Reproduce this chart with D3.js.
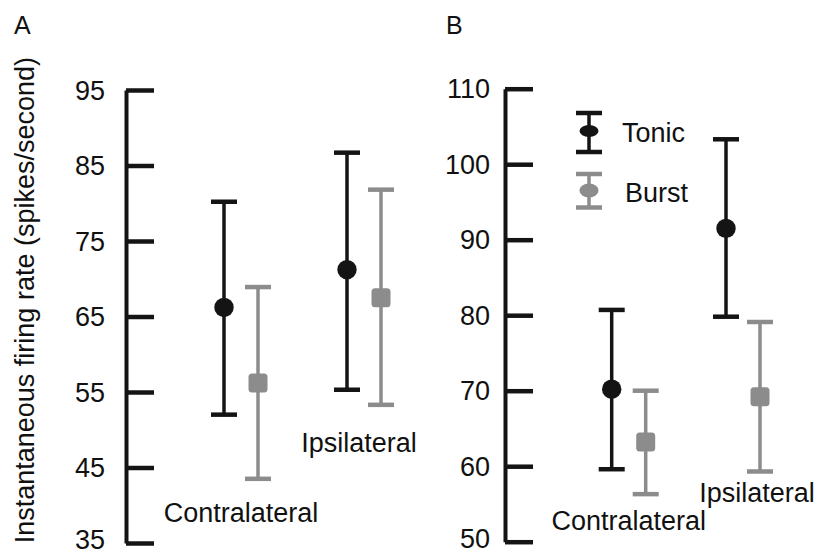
<!DOCTYPE html>
<html>
<head>
<meta charset="utf-8">
<script src="https://cdn.jsdelivr.net/npm/d3@7"></script>
<style>
  html, body { margin: 0; padding: 0; background: #fff; }
  svg text { font-family: "Liberation Sans", Arial, Helvetica, sans-serif; fill: #111; }
</style>
</head>
<body>
<svg id="chart" width="822" height="555"></svg>
<script>
// categories and series
var categories = ["Contralateral", "Ipsilateral"];
var series = ["Tonic", "Burst"];

// tick values
var ticksA = [35, 45, 55, 65, 75, 85, 95];
var ticksB = [50, 60, 70, 80, 90, 100, 110];

// panel A values (spikes/second)
var tonicMeanA = [66.2, 71.2];
var tonicLowA  = [52.0, 55.3];
var tonicHighA = [80.2, 86.7];
var burstMeanA = [56.2, 67.5];
var burstLowA  = [43.5, 53.3];
var burstHighA = [68.9, 81.8];

// panel B values (spikes/second)
var tonicMeanB = [70.2, 91.5];
var tonicLowB  = [59.6, 79.8];
var tonicHighB = [80.7, 103.3];
var burstMeanB = [63.2, 69.2];
var burstLowB  = [56.3, 59.3];
var burstHighB = [70.0, 79.1];

var BLACK = "#141414";
var GRAY = "#8c8c8c";
var FONT = 27;

var svg = d3.select("#chart");

function rows(tm, tl, th, bm, bl, bh) {
  var out = [];
  categories.forEach(function (c, i) {
    out.push({cat: c, s: "Tonic", mean: tm[i], low: tl[i], high: th[i]});
    out.push({cat: c, s: "Burst", mean: bm[i], low: bl[i], high: bh[i]});
  });
  return out;
}

function drawPanel(p) {
  var g = svg.append("g").attr("transform", "translate(" + p.axisX + ",0)");

  var y = d3.scaleLinear().domain(p.domain).range([p.bottom, p.top]);
  var x = d3.scalePoint().domain(categories).range(p.groups);
  var dx = d3.scalePoint().domain(series).range([-17, 17]);

  // axis: ticks to the right, labels to the left
  var axis = d3.axisLeft(y)
    .tickValues(p.ticks)
    .tickSizeInner(-28)
    .tickSizeOuter(0)
    .tickPadding(p.pad)
    .tickFormat(d3.format("d"));

  var ax = g.append("g").call(axis);
  ax.select(".domain").attr("stroke", BLACK).attr("stroke-width", 4);
  ax.selectAll(".tick line").attr("stroke", BLACK).attr("stroke-width", 4.5);
  ax.selectAll(".tick text")
    .attr("font-size", FONT)
    .attr("fill", BLACK)
    // bottom label kept a little higher so it stays inside the frame
    .attr("dy", function (d, i) { return i === 0 ? "0.2em" : "0.34em"; })
    .style("font-family", "'Liberation Sans', Arial, sans-serif");

  var data = rows.apply(null, p.values);

  var bars = g.selectAll(".bar")
    .data(data)
    .join("g")
    .attr("class", "bar")
    .attr("transform", function (d) {
      return "translate(" + (x(d.cat) + dx(d.s) - p.axisX) + ",0)";
    });

  bars.append("line")
    .attr("x1", 0).attr("x2", 0)
    .attr("y1", function (d) { return y(d.low); })
    .attr("y2", function (d) { return y(d.high); })
    .attr("stroke", function (d) { return d.s === "Tonic" ? BLACK : GRAY; })
    .attr("stroke-width", 3.5);

  bars.selectAll(".cap")
    .data(function (d) { return [d, d].map(function (e, i) { return {s: e.s, v: i ? e.high : e.low}; }); })
    .join("line")
    .attr("class", "cap")
    .attr("x1", -13).attr("x2", 13)
    .attr("y1", function (d) { return y(d.v); })
    .attr("y2", function (d) { return y(d.v); })
    .attr("stroke", function (d) { return d.s === "Tonic" ? BLACK : GRAY; })
    .attr("stroke-width", 4.5);

  bars.filter(function (d) { return d.s === "Tonic"; })
    .append("circle")
    .attr("cx", 0)
    .attr("cy", function (d) { return y(d.mean); })
    .attr("r", 9.7)
    .attr("fill", BLACK);

  bars.filter(function (d) { return d.s === "Burst"; })
    .append("rect")
    .attr("x", -9.5).attr("width", 19)
    .attr("y", function (d) { return y(d.mean) - 9.5; })
    .attr("height", 19)
    .attr("rx", 3.5)
    .attr("fill", GRAY);

  // category labels
  p.labels.forEach(function (l, i) {
    svg.append("text")
      .attr("x", x(categories[i]) + l[0])
      .attr("y", l[1])
      .attr("text-anchor", "middle")
      .attr("font-size", FONT)
      .text(categories[i]);
  });

  svg.append("text")
    .attr("x", p.letterX)
    .attr("y", 34)
    .attr("font-size", 25)
    .text(p.letter);
}

drawPanel({
  letter: "A", letterX: 14,
  axisX: 126, top: 90, bottom: 543, pad: 21,
  domain: [35, 95], ticks: ticksA,
  groups: [241, 364],
  labels: [[0, 522], [-5, 452]],
  values: [tonicMeanA, tonicLowA, tonicHighA, burstMeanA, burstLowA, burstHighA]
});

drawPanel({
  letter: "B", letterX: 446,
  axisX: 505, top: 88.7, bottom: 541.7, pad: 15,
  domain: [50, 110], ticks: ticksB,
  groups: [628.7, 743],
  labels: [[0, 530], [14, 502]],
  values: [tonicMeanB, tonicLowB, tonicHighB, burstMeanB, burstLowB, burstHighB]
});

// y axis title
svg.append("text")
  .attr("transform", "translate(34,57) rotate(-90)")
  .attr("text-anchor", "end")
  .attr("font-size", 27)
  .text("Instantaneous firing rate (spikes/second)");

// legend in panel B
var legend = svg.append("g").attr("transform", "translate(589,0)");
var legendItems = [
  {s: "Tonic", color: BLACK, top: 113, bottom: 152, mid: 131, ry: 6, tx: 33, ty: 142},
  {s: "Burst", color: GRAY, top: 174, bottom: 207.5, mid: 190.5, ry: 7, tx: 36, ty: 202}
];
legendItems.forEach(function (it) {
  legend.append("line")
    .attr("x1", 0).attr("x2", 0).attr("y1", it.top).attr("y2", it.bottom)
    .attr("stroke", it.color).attr("stroke-width", 3.5);
  [it.top, it.bottom].forEach(function (yy) {
    legend.append("line")
      .attr("x1", -13).attr("x2", 13).attr("y1", yy).attr("y2", yy)
      .attr("stroke", it.color).attr("stroke-width", 4.5);
  });
  legend.append("ellipse")
    .attr("cx", 0).attr("cy", it.mid).attr("rx", 9.5).attr("ry", it.ry)
    .attr("fill", it.color);
  legend.append("text")
    .attr("x", it.tx).attr("y", it.ty)
    .attr("font-size", FONT)
    .text(it.s);
});
</script>
</body>
</html>
